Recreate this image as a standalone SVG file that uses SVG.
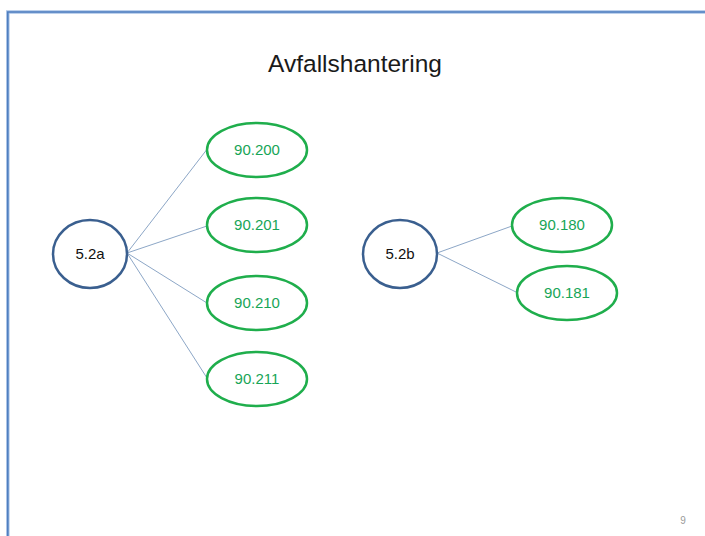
<svg xmlns="http://www.w3.org/2000/svg" width="705" height="536" viewBox="0 0 705 536">
  <style>
    .frame-out { fill: none; stroke: #a8c2e6; stroke-width: 3.5; }
    .frame-in { fill: none; stroke: #4f7fc0; stroke-width: 1.6; }
    .title { font-family: "Liberation Sans", Arial, sans-serif; font-size: 24.5px; fill: #1a1a1a; text-anchor: middle; }
    .hub { fill: #ffffff; stroke: #3a5f8f; stroke-width: 2.5; }
    .leaf { fill: #ffffff; stroke: #1fae4c; stroke-width: 2.5; }
    .hub-label { font-family: "Liberation Sans", Arial, sans-serif; font-size: 15px; fill: #111111; text-anchor: middle; }
    .leaf-label { font-family: "Liberation Sans", Arial, sans-serif; font-size: 15px; fill: #17a557; text-anchor: middle; }
    .edge { stroke: #7f9cc0; stroke-width: 0.9; fill: none; }
    .pagenum { font-family: "Liberation Sans", Arial, sans-serif; font-size: 10px; fill: #9a9a9a; text-anchor: middle; }
  </style>

  <rect width="705" height="536" fill="#ffffff"/>

  <!-- slide frame: left and top edges -->
  <path class="frame-out" d="M7.8,536 V12 H705"/>
  <path class="frame-in" d="M7.8,536 V12 H705"/>

  <text class="title" x="355" y="72">Avfallshantering</text>

  <!-- connectors -->
  <g id="connectors">
    <line class="edge" x1="127" y1="253" x2="208" y2="148"/>
    <line class="edge" x1="127" y1="253" x2="207" y2="226"/>
    <line class="edge" x1="127" y1="253" x2="207" y2="303"/>
    <line class="edge" x1="127" y1="253" x2="207" y2="378"/>
    <line class="edge" x1="437" y1="253" x2="512" y2="226"/>
    <line class="edge" x1="437" y1="253" x2="518" y2="293"/>
  </g>

  <g id="node-5-2a">
    <ellipse class="hub" cx="90" cy="254" rx="37" ry="34"/>
    <text class="hub-label" x="90" y="259">5.2a</text>
  </g>

  <g id="node-90-200">
    <ellipse class="leaf" cx="257" cy="150" rx="50" ry="27"/>
    <text class="leaf-label" x="257" y="155">90.200</text>
  </g>
  <g id="node-90-201">
    <ellipse class="leaf" cx="257" cy="225" rx="50" ry="27"/>
    <text class="leaf-label" x="257" y="230">90.201</text>
  </g>
  <g id="node-90-210">
    <ellipse class="leaf" cx="257" cy="303" rx="50" ry="27"/>
    <text class="leaf-label" x="257" y="308">90.210</text>
  </g>
  <g id="node-90-211">
    <ellipse class="leaf" cx="257" cy="379" rx="50" ry="27"/>
    <text class="leaf-label" x="257" y="384">90.211</text>
  </g>

  <g id="node-5-2b">
    <ellipse class="hub" cx="400" cy="254" rx="37" ry="34"/>
    <text class="hub-label" x="400" y="259">5.2b</text>
  </g>

  <g id="node-90-180">
    <ellipse class="leaf" cx="562" cy="225" rx="50" ry="27"/>
    <text class="leaf-label" x="562" y="230">90.180</text>
  </g>
  <g id="node-90-181">
    <ellipse class="leaf" cx="567" cy="293" rx="50" ry="27"/>
    <text class="leaf-label" x="567" y="298">90.181</text>
  </g>

  <text class="pagenum" x="683" y="524">9</text>
</svg>
